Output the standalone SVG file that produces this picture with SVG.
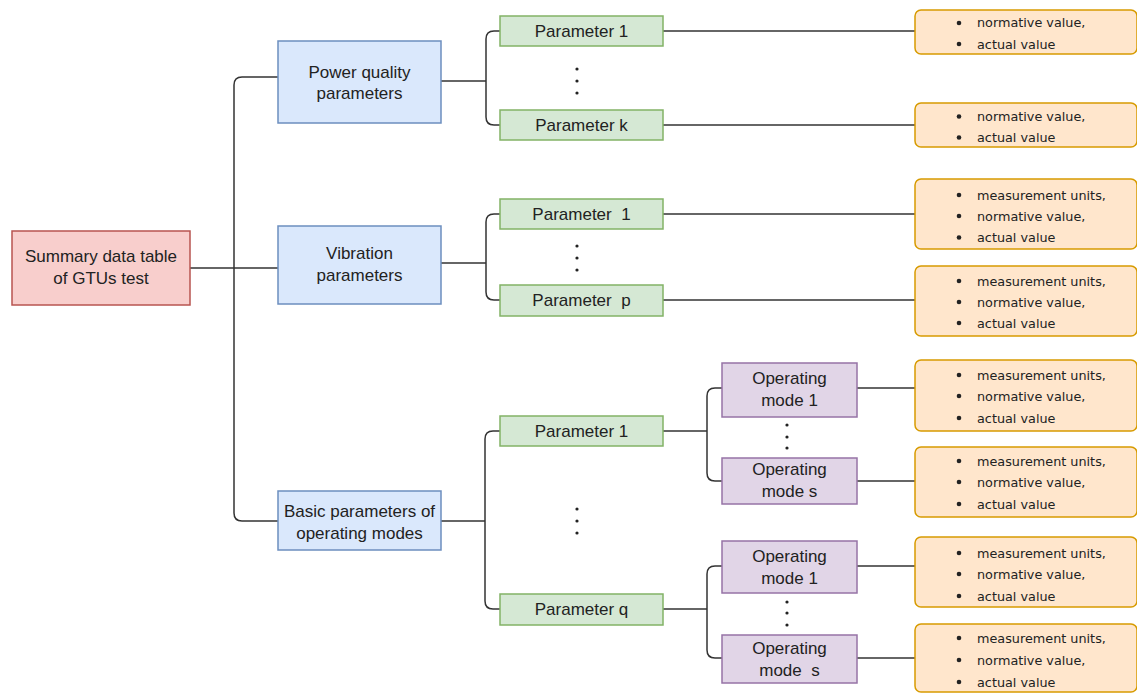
<svg xmlns="http://www.w3.org/2000/svg" width="1137" height="693" viewBox="0 0 1137 693">
<style>
.lbl{font-family:"Liberation Sans",Arial,sans-serif;font-size:17px;fill:#222;text-anchor:middle;white-space:pre}
.sm{font-family:"DejaVu Sans",Verdana,sans-serif;font-size:12.8px;fill:#222;white-space:pre}
.red{fill:#f8cecc;stroke:#b85450;stroke-width:1.5}
.blue{fill:#dae8fc;stroke:#6c8ebf;stroke-width:1.5}
.green{fill:#d5e8d4;stroke:#82b366;stroke-width:1.5}
.purple{fill:#e1d5e7;stroke:#9673a6;stroke-width:1.5}
.orange{fill:#ffe6cc;stroke:#d79b00;stroke-width:1.5}
.edge{fill:none;stroke:#333;stroke-width:1.5}
.dot{fill:#222}
</style>
<rect width="1137" height="693" fill="#fff"/>
<g id="connectors">
  <path class="edge" d="M190,268 H278"/>
  <path class="edge" d="M278,77 H242 Q234,77 234,85 V513 Q234,521 242,521 H278"/>
  <path class="edge" d="M441,81 H486"/>
  <path class="edge" d="M500,31 H494 Q486,31 486,39 V117 Q486,125 494,125 H500"/>
  <path class="edge" d="M441,263 H486"/>
  <path class="edge" d="M500,214 H494 Q486,214 486,222 V292 Q486,300 494,300 H500"/>
  <path class="edge" d="M441,521 H485"/>
  <path class="edge" d="M500,431 H493 Q485,431 485,439 V601 Q485,609 493,609 H500"/>
  <path class="edge" d="M663,431 H707"/>
  <path class="edge" d="M722,388 H715 Q707,388 707,396 V473 Q707,481 715,481 H722"/>
  <path class="edge" d="M663,609 H707"/>
  <path class="edge" d="M722,566 H715 Q707,566 707,574 V650 Q707,658 715,658 H722"/>
  <path class="edge" d="M663,31 H915"/>
  <path class="edge" d="M663,125 H915"/>
  <path class="edge" d="M663,214 H915"/>
  <path class="edge" d="M663,300 H915"/>
  <path class="edge" d="M857,388 H915"/>
  <path class="edge" d="M857,481 H915"/>
  <path class="edge" d="M857,566 H915"/>
  <path class="edge" d="M857,658 H915"/>
</g>
<g id="dots">
  <circle class="dot" cx="577" cy="69" r="1.6"/><circle class="dot" cx="577" cy="81" r="1.6"/><circle class="dot" cx="577" cy="93" r="1.6"/>
  <circle class="dot" cx="577" cy="246" r="1.6"/><circle class="dot" cx="577" cy="258" r="1.6"/><circle class="dot" cx="577" cy="270" r="1.6"/>
  <circle class="dot" cx="577" cy="509" r="1.6"/><circle class="dot" cx="577" cy="521" r="1.6"/><circle class="dot" cx="577" cy="533" r="1.6"/>
  <circle class="dot" cx="787" cy="425" r="1.6"/><circle class="dot" cx="787" cy="437" r="1.6"/><circle class="dot" cx="787" cy="448" r="1.6"/>
  <circle class="dot" cx="787" cy="602" r="1.6"/><circle class="dot" cx="787" cy="613" r="1.6"/><circle class="dot" cx="787" cy="625" r="1.6"/>
</g>
<g id="root">
  <rect class="red" x="12" y="231" width="178" height="74"/>
  <text class="lbl" x="101" y="262">Summary data table</text>
  <text class="lbl" x="101" y="284">of GTUs test</text>
</g>
<g id="power-quality">
  <rect class="blue" x="278" y="41" width="163" height="82"/>
  <text class="lbl" x="359.5" y="78">Power quality</text>
  <text class="lbl" x="359.5" y="99">parameters</text>
</g>
<g id="vibration">
  <rect class="blue" x="278" y="226" width="163" height="78"/>
  <text class="lbl" x="359.5" y="259">Vibration</text>
  <text class="lbl" x="359.5" y="281">parameters</text>
</g>
<g id="basic">
  <rect class="blue" x="278" y="491" width="163" height="59"/>
  <text class="lbl" x="359.5" y="517">Basic parameters of</text>
  <text class="lbl" x="359.5" y="539">operating modes</text>
</g>
<g id="pq-param-1">
  <rect class="green" x="500" y="16" width="163" height="30"/>
  <text class="lbl" x="581.5" y="37">Parameter 1</text>
</g>
<g id="pq-param-k">
  <rect class="green" x="500" y="110" width="163" height="30"/>
  <text class="lbl" x="581.5" y="131">Parameter k</text>
</g>
<g id="vib-param-1">
  <rect class="green" x="500" y="199" width="163" height="30"/>
  <text class="lbl" x="581.5" y="220">Parameter  1</text>
</g>
<g id="vib-param-p">
  <rect class="green" x="500" y="285" width="163" height="31"/>
  <text class="lbl" x="581.5" y="306">Parameter  p</text>
</g>
<g id="basic-param-1">
  <rect class="green" x="500" y="416" width="163" height="30"/>
  <text class="lbl" x="581.5" y="437">Parameter 1</text>
</g>
<g id="basic-param-q">
  <rect class="green" x="500" y="594" width="163" height="31"/>
  <text class="lbl" x="581.5" y="615">Parameter q</text>
</g>
<g id="p1-mode-1">
  <rect class="purple" x="722" y="363" width="135" height="54"/>
  <text class="lbl" x="789.5" y="384">Operating</text>
  <text class="lbl" x="789.5" y="406">mode 1</text>
</g>
<g id="p1-mode-s">
  <rect class="purple" x="722" y="458" width="135" height="46"/>
  <text class="lbl" x="789.5" y="475">Operating</text>
  <text class="lbl" x="789.5" y="497">mode s</text>
</g>
<g id="pq-mode-1">
  <rect class="purple" x="722" y="541" width="135" height="52"/>
  <text class="lbl" x="789.5" y="562">Operating</text>
  <text class="lbl" x="789.5" y="584">mode 1</text>
</g>
<g id="pq-mode-s">
  <rect class="purple" x="722" y="635" width="135" height="48"/>
  <text class="lbl" x="789.5" y="654">Operating</text>
  <text class="lbl" x="789.5" y="676">mode  s</text>
</g>
<g id="val-1">
  <rect class="orange" x="915" y="10" width="222" height="44" rx="6"/>
  <circle class="dot" cx="959" cy="23" r="2.3"/><text class="sm" x="977" y="27">normative value,</text>
  <circle class="dot" cx="959" cy="44" r="2.3"/><text class="sm" x="977" y="48.5">actual value</text>
</g>
<g id="val-2">
  <rect class="orange" x="915" y="103" width="222" height="44" rx="6"/>
  <circle class="dot" cx="959" cy="116.5" r="2.3"/><text class="sm" x="977" y="121">normative value,</text>
  <circle class="dot" cx="959" cy="137.5" r="2.3"/><text class="sm" x="977" y="142">actual value</text>
</g>
<g id="val-3">
  <rect class="orange" x="915" y="179" width="222" height="70" rx="6"/>
  <circle class="dot" cx="959" cy="195" r="2.3"/><text class="sm" x="977" y="199.5">measurement units,</text>
  <circle class="dot" cx="959" cy="216" r="2.3"/><text class="sm" x="977" y="220.5">normative value,</text>
  <circle class="dot" cx="959" cy="237.5" r="2.3"/><text class="sm" x="977" y="242">actual value</text>
</g>
<g id="val-4">
  <rect class="orange" x="915" y="266" width="222" height="70" rx="6"/>
  <circle class="dot" cx="959" cy="281" r="2.3"/><text class="sm" x="977" y="285.5">measurement units,</text>
  <circle class="dot" cx="959" cy="302" r="2.3"/><text class="sm" x="977" y="306.5">normative value,</text>
  <circle class="dot" cx="959" cy="323" r="2.3"/><text class="sm" x="977" y="327.5">actual value</text>
</g>
<g id="val-5">
  <rect class="orange" x="915" y="360" width="222" height="71" rx="6"/>
  <circle class="dot" cx="959" cy="375" r="2.3"/><text class="sm" x="977" y="379.5">measurement units,</text>
  <circle class="dot" cx="959" cy="396" r="2.3"/><text class="sm" x="977" y="400.5">normative value,</text>
  <circle class="dot" cx="959" cy="418" r="2.3"/><text class="sm" x="977" y="422.5">actual value</text>
</g>
<g id="val-6">
  <rect class="orange" x="915" y="447" width="222" height="70" rx="6"/>
  <circle class="dot" cx="959" cy="461" r="2.3"/><text class="sm" x="977" y="465.5">measurement units,</text>
  <circle class="dot" cx="959" cy="482" r="2.3"/><text class="sm" x="977" y="486.5">normative value,</text>
  <circle class="dot" cx="959" cy="504" r="2.3"/><text class="sm" x="977" y="508.5">actual value</text>
</g>
<g id="val-7">
  <rect class="orange" x="915" y="537" width="222" height="70" rx="6"/>
  <circle class="dot" cx="959" cy="553" r="2.3"/><text class="sm" x="977" y="557.5">measurement units,</text>
  <circle class="dot" cx="959" cy="574" r="2.3"/><text class="sm" x="977" y="578.5">normative value,</text>
  <circle class="dot" cx="959" cy="596" r="2.3"/><text class="sm" x="977" y="600.5">actual value</text>
</g>
<g id="val-8">
  <rect class="orange" x="915" y="624" width="222" height="68" rx="6"/>
  <circle class="dot" cx="959" cy="638" r="2.3"/><text class="sm" x="977" y="642.5">measurement units,</text>
  <circle class="dot" cx="959" cy="660" r="2.3"/><text class="sm" x="977" y="664.5">normative value,</text>
  <circle class="dot" cx="959" cy="682" r="2.3"/><text class="sm" x="977" y="686.5">actual value</text>
</g>
</svg>
